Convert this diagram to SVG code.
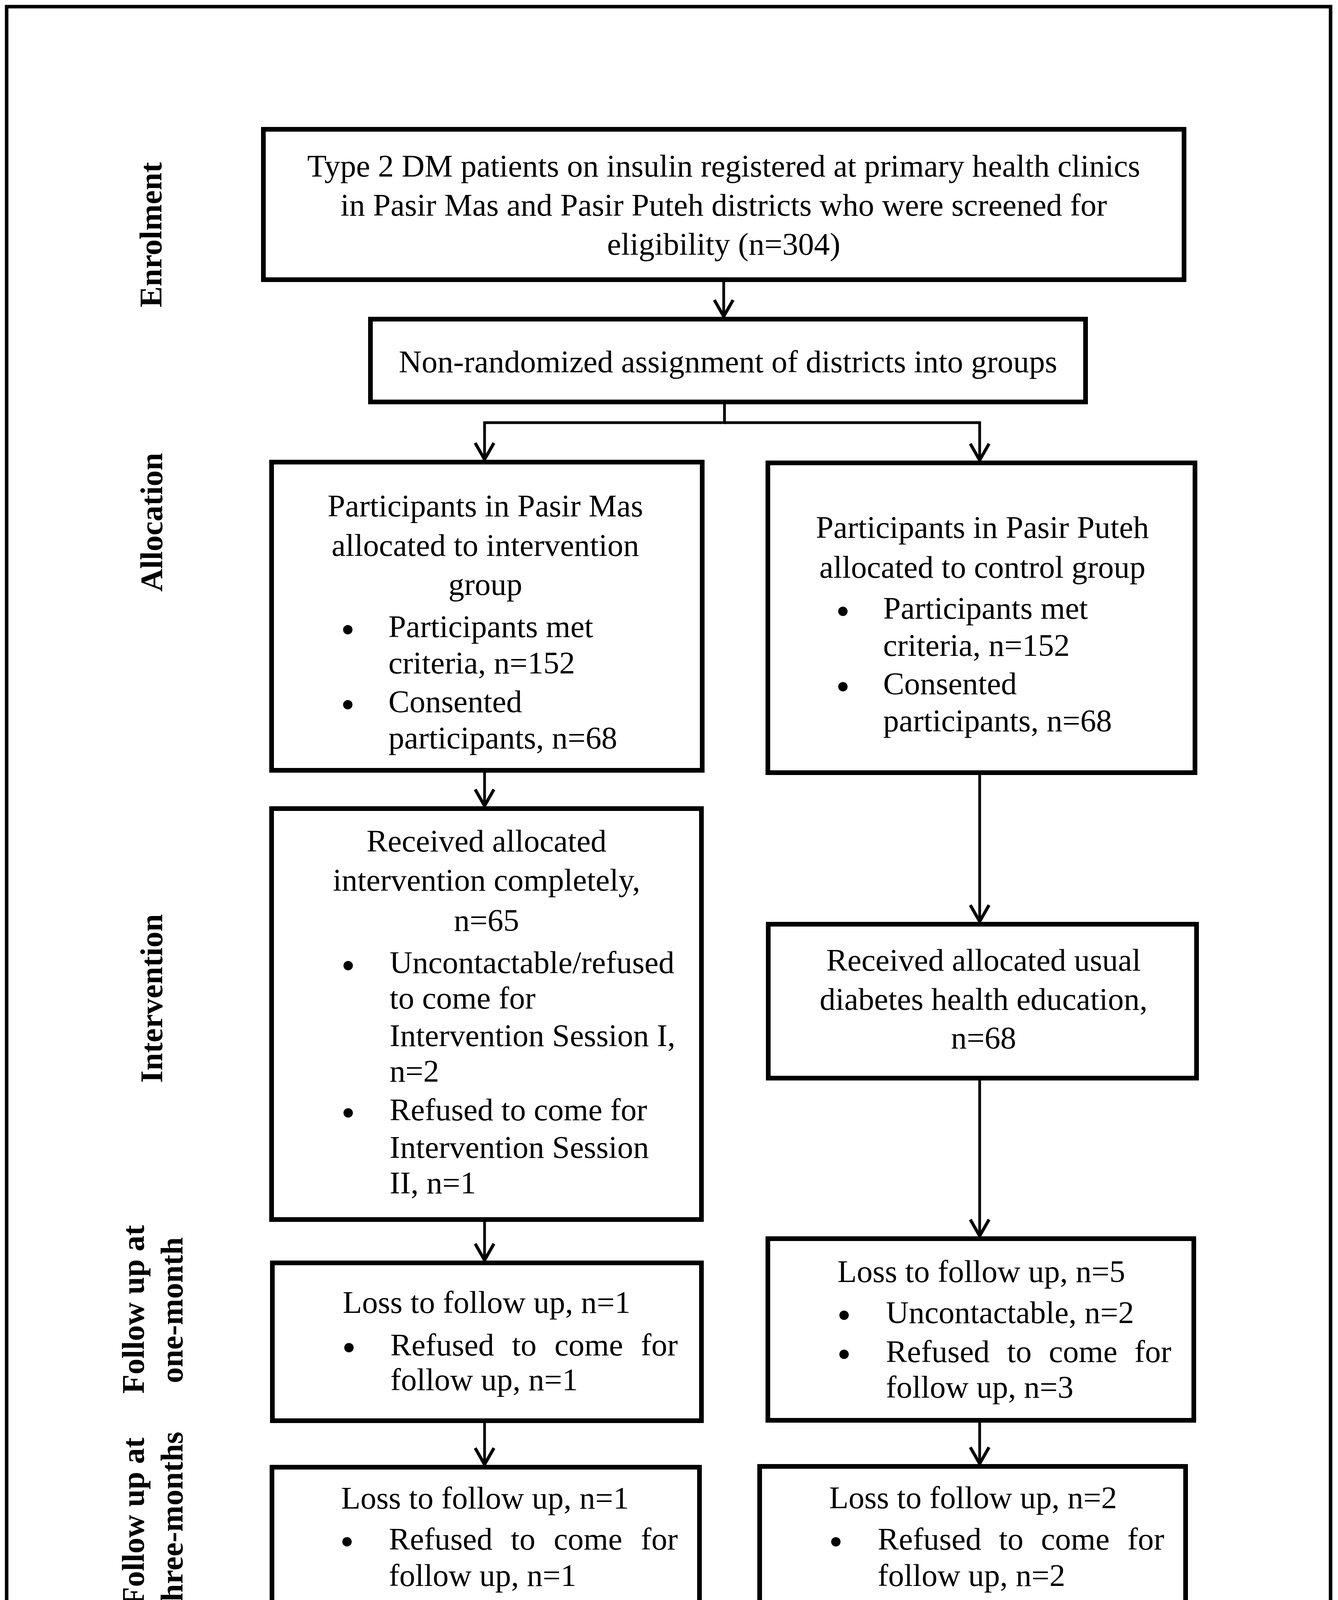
<svg xmlns="http://www.w3.org/2000/svg" width="3424" height="4836" viewBox="0 0 3424 4836">
<style>
.bx{fill:#fff;stroke:#000;stroke-width:12}
.t{font-family:"Liberation Serif","Times New Roman",serif;font-size:81px;fill:#000}
.m{text-anchor:middle}
.lb{font-family:"Liberation Serif","Times New Roman",serif;font-size:81px;font-weight:bold;fill:#000;text-anchor:middle}
.c{fill:none;stroke:#000;stroke-width:7}
.bu{fill:#000}
</style>
<defs>
<marker id="ah" viewBox="-50 -30 60 60" refX="0" refY="0" markerWidth="60" markerHeight="60" markerUnits="userSpaceOnUse" orient="auto">
<path d="M-42 -24 L0 0 L-42 24" fill="none" stroke="#000" stroke-width="8" stroke-linejoin="round"/>
</marker>
</defs>
<rect x="0" y="0" width="3424" height="4836" fill="#fff"/>
<rect id="frame" x="17" y="17" width="3388" height="4801" fill="none" stroke="#000" stroke-width="9"/>

<g id="labels">
<text class="lb" transform="translate(413,601) rotate(-90)">Enrolment</text>
<text class="lb" transform="translate(415,1337) rotate(-90)">Allocation</text>
<text class="lb" transform="translate(415,2556) rotate(-90)">Intervention</text>
<text class="lb" transform="translate(368,3352) rotate(-90)">Follow up at</text>
<text class="lb" transform="translate(467,3354) rotate(-90)">one-month</text>
<text class="lb" transform="translate(368,3896) rotate(-90)">Follow up at</text>
<text class="lb" transform="translate(467,3896) rotate(-90)">three-months</text>
<text class="lb" transform="translate(415,4413) rotate(-90)">Analysis</text>
</g>

<g id="connectors">
<path class="c" d="M1852 716 V810" marker-end="url(#ah)"/>
<path class="c" d="M1854 1029 V1082 H1240 V1176" marker-end="url(#ah)"/>
<path class="c" d="M1854 1082 H2507 V1178" marker-end="url(#ah)"/>
<path class="c" d="M1240 1972 V2063" marker-end="url(#ah)"/>
<path class="c" d="M2507 1978 V2359" marker-end="url(#ah)"/>
<path class="c" d="M1240 3122 V3226" marker-end="url(#ah)"/>
<path class="c" d="M2507 2760 V3164" marker-end="url(#ah)"/>
<path class="c" d="M1240 3637 V3749" marker-end="url(#ah)"/>
<path class="c" d="M2507 3636 V3747" marker-end="url(#ah)"/>
<path class="c" d="M1240 4114 V4213" marker-end="url(#ah)"/>
<path class="c" d="M2507 4112 V4214" marker-end="url(#ah)"/>
</g>

<g id="n1">
<rect class="bx" x="674" y="331" width="2356" height="385"/>
<text class="t m" x="1852" y="452">Type 2 DM patients on insulin registered at primary health clinics</text>
<text class="t m" x="1852" y="552">in Pasir Mas and Pasir Puteh districts who were screened for</text>
<text class="t m" x="1852" y="652">eligibility (n=304)</text>
</g>

<g id="n2">
<rect class="bx" x="948" y="817" width="1830" height="212"/>
<text class="t m" x="1863" y="953">Non-randomized assignment of districts into groups</text>
</g>

<g id="n3">
<rect class="bx" x="695" y="1183" width="1102" height="789"/>
<text class="t m" x="1242" y="1322">Participants in Pasir Mas</text>
<text class="t m" x="1242" y="1423">allocated to intervention</text>
<text class="t m" x="1242" y="1523">group</text>
<circle class="bu" cx="890" cy="1612" r="12"/>
<text class="t" x="994" y="1631">Participants met</text>
<text class="t" x="994" y="1724">criteria, n=152</text>
<circle class="bu" cx="890" cy="1804" r="12"/>
<text class="t" x="994" y="1823">Consented</text>
<text class="t" x="994" y="1916">participants, n=68</text>
</g>

<g id="n4">
<rect class="bx" x="1965" y="1185" width="1093" height="793"/>
<text class="t m" x="2514" y="1377">Participants in Pasir Puteh</text>
<text class="t m" x="2514" y="1479">allocated to control group</text>
<circle class="bu" cx="2157" cy="1565" r="12"/>
<text class="t" x="2260" y="1584">Participants met</text>
<text class="t" x="2260" y="1679">criteria, n=152</text>
<circle class="bu" cx="2157" cy="1758" r="12"/>
<text class="t" x="2260" y="1777">Consented</text>
<text class="t" x="2260" y="1872">participants, n=68</text>
</g>

<g id="n5">
<rect class="bx" x="695" y="2070" width="1100" height="1052"/>
<text class="t m" x="1245" y="2180">Received allocated</text>
<text class="t m" x="1245" y="2280">intervention completely,</text>
<text class="t m" x="1245" y="2383">n=65</text>
<circle class="bu" cx="891" cy="2472" r="12"/>
<text class="t" x="997" y="2491">Uncontactable/refused</text>
<text class="t" x="997" y="2582">to come for</text>
<text class="t" x="997" y="2678">Intervention Session I,</text>
<text class="t" x="997" y="2769">n=2</text>
<circle class="bu" cx="891" cy="2849" r="12"/>
<text class="t" x="997" y="2868">Refused to come for</text>
<text class="t" x="997" y="2964">Intervention Session</text>
<text class="t" x="997" y="3055">II, n=1</text>
</g>

<g id="n6">
<rect class="bx" x="1966" y="2366" width="1096" height="394"/>
<text class="t m" x="2517" y="2485">Received allocated usual</text>
<text class="t m" x="2517" y="2585">diabetes health education,</text>
<text class="t m" x="2517" y="2684">n=68</text>
</g>

<g id="n7">
<rect class="bx" x="697" y="3233" width="1098" height="404"/>
<text class="t" x="877" y="3361">Loss to follow up, n=1</text>
<circle class="bu" cx="893" cy="3450" r="12"/>
<text class="t" y="3470"><tspan x="999">Refused</tspan><tspan x="1310">to</tspan><tspan x="1419">come</tspan><tspan x="1640">for</tspan></text>
<text class="t" x="999" y="3559">follow up, n=1</text>
</g>

<g id="n8">
<rect class="bx" x="1965" y="3171" width="1090" height="465"/>
<text class="t" x="2143" y="3282">Loss to follow up, n=5</text>
<circle class="bu" cx="2160" cy="3367" r="12"/>
<text class="t" x="2267" y="3387">Uncontactable, n=2</text>
<circle class="bu" cx="2160" cy="3467" r="12"/>
<text class="t" y="3487"><tspan x="2267">Refused</tspan><tspan x="2577">to</tspan><tspan x="2684">come</tspan><tspan x="2903">for</tspan></text>
<text class="t" x="2267" y="3578">follow up, n=3</text>
</g>

<g id="n9">
<rect class="bx" x="696" y="3756" width="1094" height="358"/>
<text class="t" x="873" y="3862">Loss to follow up, n=1</text>
<circle class="bu" cx="888" cy="3947" r="12"/>
<text class="t" y="3967"><tspan x="995">Refused</tspan><tspan x="1307">to</tspan><tspan x="1417">come</tspan><tspan x="1640">for</tspan></text>
<text class="t" x="995" y="4060">follow up, n=1</text>
</g>

<g id="n10">
<rect class="bx" x="1944" y="3754" width="1090" height="358"/>
<text class="t" x="2122" y="3861">Loss to follow up, n=2</text>
<circle class="bu" cx="2139" cy="3947" r="12"/>
<text class="t" y="3967"><tspan x="2246">Refused</tspan><tspan x="2556">to</tspan><tspan x="2664">come</tspan><tspan x="2885">for</tspan></text>
<text class="t" x="2246" y="4060">follow up, n=2</text>
</g>

<g id="n11">
<rect class="bx" x="697" y="4220" width="1098" height="337"/>
<text class="t m" x="1245" y="4326">Completed, n=63</text>
<text class="t m" x="1245" y="4421">68 analysed for ITT</text>
<text class="t m" x="1245" y="4515">63 analysed for PP</text>
</g>

<g id="n12">
<rect class="bx" x="1951" y="4221" width="1099" height="342"/>
<text class="t" x="2253" y="4328">Completed, n=61</text>
<text class="t" x="2253" y="4423">68 analysed for ITT</text>
<text class="t" x="2253" y="4518">61 analysed for PP</text>
</g>
</svg>
